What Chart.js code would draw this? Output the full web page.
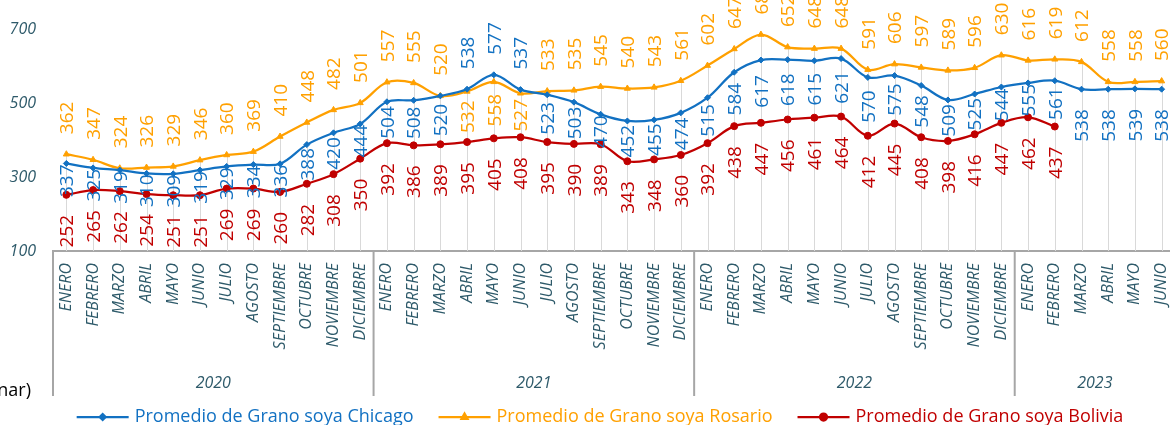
<!DOCTYPE html>
<html>
<head>
<meta charset="utf-8">
<script src="https://cdn.jsdelivr.net/npm/chart.js"></script>
<style>
html, body { margin: 0; padding: 0; background: #fff; overflow: hidden; }
#wrap { position: relative; width: 1180px; height: 425px; }
</style>
</head>
<body>
<div id="wrap"><canvas id="myChart" width="1180" height="425"></canvas></div>
<script>
// datos
var meses = ['ENERO', 'FEBRERO', 'MARZO', 'ABRIL', 'MAYO', 'JUNIO', 'JULIO', 'AGOSTO', 'SEPTIEMBRE', 'OCTUBRE', 'NOVIEMBRE', 'DICIEMBRE'];
var anios = ['2020', '2021', '2022', '2023'];
var mesesPorAnio = [12, 12, 12, 6];
var ticksY = [100, 300, 500, 700];

var chicago = [337, 325, 319, 310, 309, 319, 329, 334, 336, 388, 420, 444,
               504, 508, 520, 538, 577, 537, 523, 503, 470, 452, 455, 474,
               515, 584, 617, 618, 615, 621, 570, 575, 548, 509, 525, 544,
               555, 561, 538, 538, 539, 538];
var rosario = [362, 347, 324, 326, 329, 346, 360, 369, 410, 448, 482, 501,
               557, 555, 520, 532, 558, 527, 533, 535, 545, 540, 543, 561,
               602, 647, 686, 652, 648, 648, 591, 606, 597, 589, 596, 630,
               616, 619, 612, 558, 558, 560];
var bolivia = [252, 265, 262, 254, 251, 251, 269, 269, 260, 282, 308, 350,
               392, 386, 389, 395, 405, 408, 395, 390, 389, 343, 348, 360,
               392, 438, 447, 456, 461, 464, 412, 445, 408, 398, 416, 447,
               462, 437, null, null, null, null];

var azul = '#1271C2';
var naranja = '#FFA000';
var rojo = '#C00000';
var teal = '#2E5A6A';
var fuente = "'Open Sans', 'Noto Sans', sans-serif";

var etiquetas = [];
for (var a = 0; a < anios.length; a++) {
    for (var m = 0; m < mesesPorAnio[a]; m++) {
        etiquetas.push(meses[m]);
    }
}

// lineas verticales desde el punto mas alto hasta el eje
var lineasCaida = {
    id: 'lineasCaida',
    beforeDatasetsDraw: function (chart) {
        var ctx = chart.ctx, xs = chart.scales.x, ys = chart.scales.y, area = chart.chartArea;
        ctx.save();
        ctx.strokeStyle = '#D9D9D9';
        ctx.lineWidth = 1;
        for (var i = 0; i < etiquetas.length; i++) {
            var mx = null;
            chart.data.datasets.forEach(function (ds) {
                var v = ds.data[i];
                if (v != null && (mx == null || v > mx)) mx = v;
            });
            if (mx == null) continue;
            var x = Math.round(xs.getPixelForValue(i)) + 0.5;
            ctx.beginPath();
            ctx.moveTo(x, ys.getPixelForValue(mx));
            ctx.lineTo(x, area.bottom);
            ctx.stroke();
        }
        ctx.restore();
    }
};

// etiquetas de datos verticales
var etiquetasDatos = {
    id: 'etiquetasDatos',
    afterDatasetsDraw: function (chart) {
        var ctx = chart.ctx;
        var mC = chart.getDatasetMeta(0), mR = chart.getDatasetMeta(1), mB = chart.getDatasetMeta(2);
        ctx.save();
        ctx.font = '19px ' + fuente;
        var capH = 19 * 0.714;

        function escribir(txt, x, centro, color) {
            ctx.save();
            ctx.fillStyle = color;
            ctx.translate(x, centro);
            ctx.rotate(-Math.PI / 2);
            ctx.textAlign = 'center';
            ctx.textBaseline = 'alphabetic';
            ctx.fillText(txt, 0, capH / 2);
            ctx.restore();
        }
        function arriba(txt, p, color) {
            var w = ctx.measureText(txt).width;
            escribir(txt, p.x, p.y - 20 - w / 2, color);
        }
        function abajo(txt, p, yRojo, color) {
            var w = ctx.measureText(txt).width;
            var c;
            if (yRojo != null) {
                c = Math.max((p.y + yRojo) / 2, p.y + 1 + w / 2);
            } else {
                c = p.y + 20 + w / 2;
            }
            escribir(txt, p.x, c, color);
        }

        for (var i = 0; i < etiquetas.length; i++) {
            var pC = mC.data[i], pR = mR.data[i];
            var yB = bolivia[i] != null ? mB.data[i].y : null;
            var chicagoArriba = chicago[i] > rosario[i];
            if (chicagoArriba) {
                arriba(String(chicago[i]), pC, azul);
                abajo(String(rosario[i]), pR, yB, naranja);
            } else {
                arriba(String(rosario[i]), pR, naranja);
                abajo(String(chicago[i]), pC, yB, azul);
            }
            if (bolivia[i] != null) {
                var pB = mB.data[i];
                var w = ctx.measureText(String(bolivia[i])).width;
                escribir(String(bolivia[i]), pB.x, pB.y + 20 + w / 2, rojo);
            }
        }
        ctx.restore();
    }
};

// grupos de anios bajo el eje, leyenda y texto suelto
var ejeAnios = {
    id: 'ejeAnios',
    afterDraw: function (chart) {
        var ctx = chart.ctx, xs = chart.scales.x, area = chart.chartArea;
        var paso = xs.getPixelForValue(1) - xs.getPixelForValue(0);
        var yFin = area.bottom + 145;
        ctx.save();
        ctx.strokeStyle = '#A6A6A6';
        ctx.lineWidth = 2;
        ctx.fillStyle = teal;
        ctx.font = 'italic 16px ' + fuente;
        ctx.textAlign = 'center';
        ctx.textBaseline = 'middle';
        var inicio = 0;
        for (var a = 0; a < anios.length; a++) {
            var x0 = xs.getPixelForValue(inicio) - paso / 2;
            var x1 = xs.getPixelForValue(inicio + mesesPorAnio[a] - 1) + paso / 2;
            ctx.beginPath();
            ctx.moveTo(x0, area.bottom);
            ctx.lineTo(x0, yFin);
            ctx.stroke();
            if (a == anios.length - 1) {
                ctx.beginPath();
                ctx.moveTo(x1, area.bottom);
                ctx.lineTo(x1, yFin);
                ctx.stroke();
            }
            ctx.fillText(anios[a], (x0 + x1) / 2, area.bottom + 132);
            inicio += mesesPorAnio[a];
        }

        // texto recortado a la izquierda
        ctx.fillStyle = '#000';
        ctx.font = '18px ' + fuente;
        ctx.textAlign = 'right';
        ctx.fillText('nar)', 31, area.bottom + 140);

        // leyenda
        ctx.font = '18px ' + fuente;
        ctx.textAlign = 'left';
        var ds = chart.data.datasets;
        var anchoLinea = 52, sep = 6, hueco = 25, total = 0;
        ds.forEach(function (d, k) {
            total += anchoLinea + sep + ctx.measureText(d.label).width + (k < ds.length - 1 ? hueco : 0);
        });
        var x = 600 - total / 2, y = 417;
        ds.forEach(function (d) {
            ctx.strokeStyle = d.borderColor;
            ctx.fillStyle = d.borderColor;
            ctx.lineWidth = 2.25;
            ctx.beginPath();
            ctx.moveTo(x, y);
            ctx.lineTo(x + anchoLinea, y);
            ctx.stroke();
            Chart.helpers.drawPoint(ctx, { pointStyle: d.pointStyle, radius: d.pointRadius, borderWidth: 1, rotation: 0 }, x + anchoLinea / 2, y);
            x += anchoLinea + sep;
            ctx.fillText(d.label, x, y);
            x += ctx.measureText(d.label).width + hueco;
        });
        ctx.restore();
    }
};

var ctx = document.getElementById('myChart').getContext('2d');
var chart = new Chart(ctx, {
    type: 'line',
    data: {
        labels: etiquetas,
        datasets: [{
            label: 'Promedio de Grano soya Chicago',
            data: chicago,
            borderColor: azul,
            backgroundColor: azul,
            borderWidth: 2.25,
            tension: 0.35,
            pointStyle: 'rectRot',
            pointRadius: 3,
            pointBorderWidth: 1
        }, {
            label: 'Promedio de Grano soya Rosario',
            data: rosario,
            borderColor: naranja,
            backgroundColor: naranja,
            borderWidth: 2.25,
            tension: 0.35,
            pointStyle: 'triangle',
            pointRadius: 3.5,
            pointBorderWidth: 1
        }, {
            label: 'Promedio de Grano soya Bolivia',
            data: bolivia,
            borderColor: rojo,
            backgroundColor: rojo,
            borderWidth: 2.25,
            tension: 0.35,
            pointStyle: 'circle',
            pointRadius: 3.5,
            pointBorderWidth: 1
        }]
    },
    options: {
        responsive: false,
        animation: false,
        layout: { padding: { left: 0, right: 4, top: 0, bottom: 25 } },
        plugins: {
            legend: { display: false },
            tooltip: { enabled: false }
        },
        scales: {
            x: {
                offset: true,
                grid: { display: false, drawTicks: false },
                border: { display: true, color: '#A6A6A6', width: 2 },
                ticks: {
                    autoSkip: false,
                    minRotation: 90,
                    maxRotation: 90,
                    padding: 12,
                    color: teal,
                    font: { family: fuente, size: 16, style: 'italic' }
                },
                afterFit: function (s) { s.height = 149; s.paddingLeft = 0; s.paddingRight = 0; }
            },
            y: {
                min: 100,
                max: 766,
                grid: { display: false, drawTicks: false },
                border: { display: false },
                ticks: {
                    padding: 17,
                    color: teal,
                    font: { family: fuente, size: 16, style: 'italic' }
                },
                afterBuildTicks: function (s) { s.ticks = ticksY.map(function (v) { return { value: v }; }); },
                afterFit: function (s) { s.width = 53; s.paddingTop = 0; s.paddingBottom = 0; }
            }
        }
    },
    plugins: [lineasCaida, etiquetasDatos, ejeAnios]
});
</script>
</body>
</html>
